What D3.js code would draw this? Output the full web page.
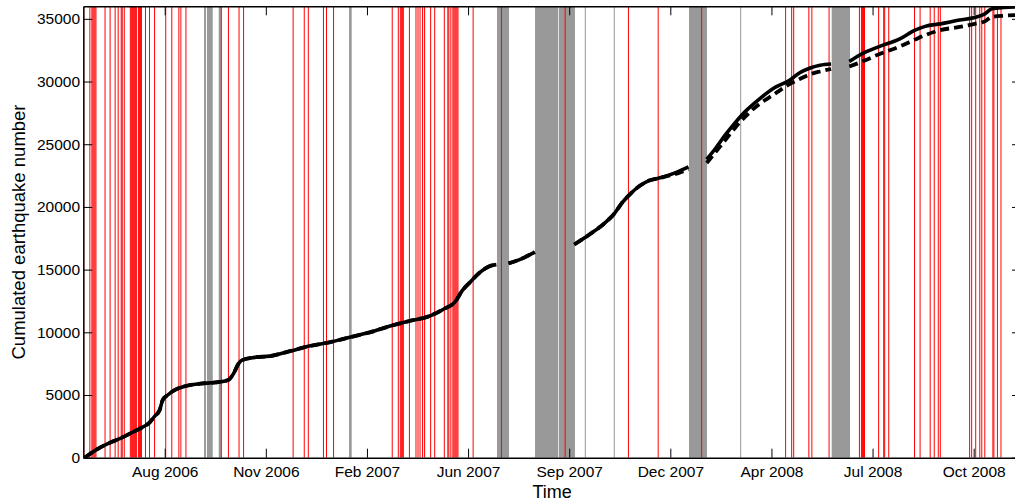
<!DOCTYPE html>
<html><head><meta charset="utf-8">
<script src="https://cdn.jsdelivr.net/npm/d3@7"></script>
<style>
html,body{margin:0;padding:0;background:#fff;}
svg{display:block;font-family:"Liberation Sans",Arial,Helvetica,sans-serif;}
</style></head><body>
<svg id="chart" width="1015" height="500"></svg>
<script>
// ---- data ----
const xDomain = ["2006-05-22T12:00", "2008-12-04T19:00"];
const yDomain = [0, 36000];
const xTickDates = ["2006-08-11","2006-11-19","2007-02-27","2007-06-07","2007-09-15","2007-12-24","2008-04-02","2008-07-11","2008-10-19"];
const yTickValues = [0,5000,10000,15000,20000,25000,30000,35000];

const eventDates = [
 "2006-05-23","2006-05-29","2006-05-31","2006-06-01","2006-06-02","2006-06-03","2006-06-04",
 "2006-06-13","2006-06-18","2006-06-23","2006-06-26","2006-06-29","2006-06-30","2006-07-02",
 "2006-07-08","2006-07-09","2006-07-10","2006-07-11","2006-07-12","2006-07-13","2006-07-14",
 "2006-07-16","2006-07-17","2006-07-18","2006-07-19","2006-07-23","2006-07-27","2006-08-01",
 "2006-08-12","2006-08-18","2006-08-25","2006-08-27","2006-09-01","2006-10-06","2006-10-13",
 "2006-10-23T12:00","2006-10-28","2006-12-16","2006-12-27","2006-12-31",
 "2007-01-15","2007-01-18","2007-01-25","2007-03-24","2007-03-30","2007-04-01","2007-04-02",
 "2007-04-03","2007-04-04","2007-04-10","2007-04-16T12:00","2007-04-18T12:00","2007-04-20T12:00",
 "2007-04-23","2007-04-25","2007-05-01","2007-05-05","2007-05-14T12:00","2007-05-18","2007-05-19",
 "2007-05-21","2007-05-23","2007-05-24","2007-05-25","2007-05-26","2007-05-27","2007-05-28",
 "2007-06-12","2007-07-10","2007-09-11","2007-11-12T14:00","2007-12-12",
 "2008-01-24","2008-04-16","2008-04-22","2008-04-24","2008-05-09","2008-05-12","2008-05-29",
 "2008-06-28","2008-06-30","2008-07-01","2008-07-02","2008-07-03","2008-07-17","2008-07-22",
 "2008-07-23","2008-07-27","2008-08-21T12:00","2008-08-27","2008-09-06","2008-09-10","2008-09-14",
 "2008-09-16","2008-10-15","2008-10-17","2008-10-21","2008-10-25","2008-10-27","2008-10-30",
 "2008-11-07","2008-11-08","2008-11-11T12:00","2008-11-15"
];

const gapStarts = ["2006-09-18T22:00","2006-09-21T19:00","2006-10-03T10:00","2007-02-09T07:00","2007-07-05T14:00",
 "2007-08-12T05:00","2007-09-04T22:00","2007-09-30T10:00","2007-10-29T02:00","2008-01-11T12:00","2008-03-02T02:00","2008-05-31T14:00"];
const gapEnds   = ["2006-09-20T19:00","2006-09-27T12:00","2006-10-05T17:00","2007-02-11T22:00","2007-07-17T12:00",
 "2007-09-04T05:00","2007-09-20T17:00","2007-10-01T10:00","2007-10-30T02:00","2008-01-29T07:00","2008-03-03T02:00","2008-06-18T17:00"];

// null = no data (curve interrupted inside a data gap)
const curveDates = ["2006-05-24","2006-05-29","2006-06-08","2006-06-18","2006-06-27","2006-07-07","2006-07-17","2006-07-27",
 "2006-08-01","2006-08-06","2006-08-09","2006-08-14","2006-08-21","2006-08-31","2006-09-15","2006-09-30","2006-10-13",
 "2006-10-18","2006-10-23","2006-10-27","2006-11-08","2006-11-23","2006-12-13","2007-01-01","2007-01-21","2007-02-05",
 "2007-02-15","2007-03-02","2007-03-22","2007-04-10","2007-04-30","2007-05-15","2007-05-25","2007-06-01","2007-06-09",
 "2007-06-19","2007-06-29","2007-07-05","2007-07-11","2007-07-17","2007-07-28","2007-08-12","2007-08-30","2007-09-20","2007-10-05","2007-10-20",
 "2007-10-30","2007-11-06","2007-11-14","2007-11-24","2007-12-03","2007-12-13","2007-12-28","2008-01-11","2008-01-20","2008-01-29",
 "2008-02-06","2008-02-16","2008-02-26","2008-03-07","2008-03-21","2008-04-05","2008-04-20","2008-04-30","2008-05-11",
 "2008-05-20","2008-05-31","2008-06-09","2008-06-18","2008-06-28","2008-07-18","2008-08-07","2008-08-22","2008-09-01","2008-09-16",
 "2008-10-05","2008-10-20","2008-10-30","2008-11-06","2008-11-18","2008-12-04"];
const solidCounts = [0,300,800,1200,1500,1900,2300,2800,3300,3800,4600,5000,5400,5700,5900,6000,6200,
 6700,7500,7800,8000,8100,8500,8900,9200,9500,9700,10000,10500,10900,11300,11900,12400,13300,14000,
 14800,15300,15400,null,15500,15800,16400,null,17000,17800,18700,19500,20300,21000,21700,22100,22300,22700,23200,null,23800,
 24600,25700,26700,27600,28600,29500,30100,30700,31100,31300,31400,null,31600,32100,32800,33400,34100,34400,34600,
 34900,35100,35400,35800,35900,35950];
const dashedCounts = [0,300,800,1200,1500,1900,2300,2800,3300,3800,4600,5000,5400,5700,5900,6000,6200,
 6700,7500,7800,8000,8100,8500,8900,9200,9500,9700,10000,10500,10900,11300,11900,12400,13300,14000,
 14800,15300,15400,null,15500,15800,16400,null,17000,17800,18700,19500,20300,21000,21700,22100,22300,22600,23000,null,23500,
 24300,25300,26300,27200,28200,29000,29800,30200,30600,30800,31000,null,31200,31500,32200,32800,33350,33700,34100,
 34350,34600,34800,35150,35250,35300];

const xLabel = "Time";
const yLabel = "Cumulated earthquake number";

// ---- drawing ----
const parse = s => new Date(s.length > 10 ? s + ":00Z" : s + "T00:00:00Z");
const W = 1015, H = 500;
const L = 83.3, R = 1021, T = 6.3, B = 457.7;
const svg = d3.select("#chart");
svg.append("rect").attr("width", W).attr("height", H).attr("fill", "#fff");

const x = d3.scaleUtc().domain(xDomain.map(parse)).range([L, R]);
const y = d3.scaleLinear().domain(yDomain).range([B, T]);

svg.append("defs").append("clipPath").attr("id", "clip")
  .append("rect").attr("x", L).attr("y", T).attr("width", R - L).attr("height", B - T);
const plot = svg.append("g").attr("clip-path", "url(#clip)");

// gaps
plot.append("g").selectAll("rect").data(gapStarts.map((s, i) => [parse(s), parse(gapEnds[i])]))
  .join("rect").attr("x", d => x(d[0])).attr("width", d => x(d[1]) - x(d[0]))
  .attr("y", T).attr("height", B - T).attr("fill", "#999999");

// events
plot.append("g").selectAll("line").data(eventDates.map(parse)).join("line")
  .attr("x1", d => x(d)).attr("x2", d => x(d)).attr("y1", T).attr("y2", B)
  .attr("stroke", "#ff0000").attr("stroke-width", 1);

// curves
const pts = (vals) => curveDates.map((d, i) => ({ t: parse(d), v: vals[i] }));
const line = d3.line().defined(d => d.v != null).x(d => x(d.t)).y(d => y(d.v)).curve(d3.curveMonotoneX);
plot.append("path").datum(pts(solidCounts)).attr("d", line)
  .attr("fill", "none").attr("stroke", "#000").attr("stroke-width", 3.6).attr("stroke-linejoin", "round");
plot.append("path").datum(pts(dashedCounts)).attr("d", line)
  .attr("fill", "none").attr("stroke", "#000").attr("stroke-width", 3.8).attr("stroke-dasharray", "9,5");

// axes
const fmt = d3.utcFormat("%b %Y");
const xTicks = xTickDates.map(parse);
const gx = svg.append("g").attr("transform", `translate(0,${B})`)
  .call(d3.axisBottom(x).tickValues(xTicks).tickFormat(fmt).tickSizeInner(-9).tickSizeOuter(0).tickPadding(8.5));
const gxt = svg.append("g").attr("transform", `translate(0,${T})`)
  .call(d3.axisTop(x).tickValues(xTicks).tickFormat("").tickSizeInner(-9).tickSizeOuter(0));
const gy = svg.append("g").attr("transform", `translate(${L},0)`)
  .call(d3.axisLeft(y).tickValues(yTickValues).tickFormat(d3.format("d")).tickSizeInner(-9).tickSizeOuter(0).tickPadding(3.3));
const gyr = svg.append("g").attr("transform", `translate(${R},0)`)
  .call(d3.axisRight(y).tickValues(yTickValues).tickFormat("").tickSizeInner(-9).tickSizeOuter(0));
[gx, gxt, gy, gyr].forEach(g => {
  g.selectAll("text").attr("font-size", "15.5px").attr("fill", "#000").attr("font-family", "Liberation Sans, Arial, sans-serif");
  g.selectAll("line").attr("stroke", "#000");
  g.select(".domain").attr("stroke", "#000").attr("stroke-width", 1.4);
});

svg.append("text").attr("x", (L + R) / 2).attr("y", 497.5).attr("text-anchor", "middle")
  .attr("font-size", "18px").attr("fill", "#000").text(xLabel);
svg.append("text").attr("transform", `translate(25,${(T + B) / 2}) rotate(-90)`).attr("text-anchor", "middle")
  .attr("font-size", "18.5px").attr("fill", "#000").text(yLabel);
</script>
</body></html>
